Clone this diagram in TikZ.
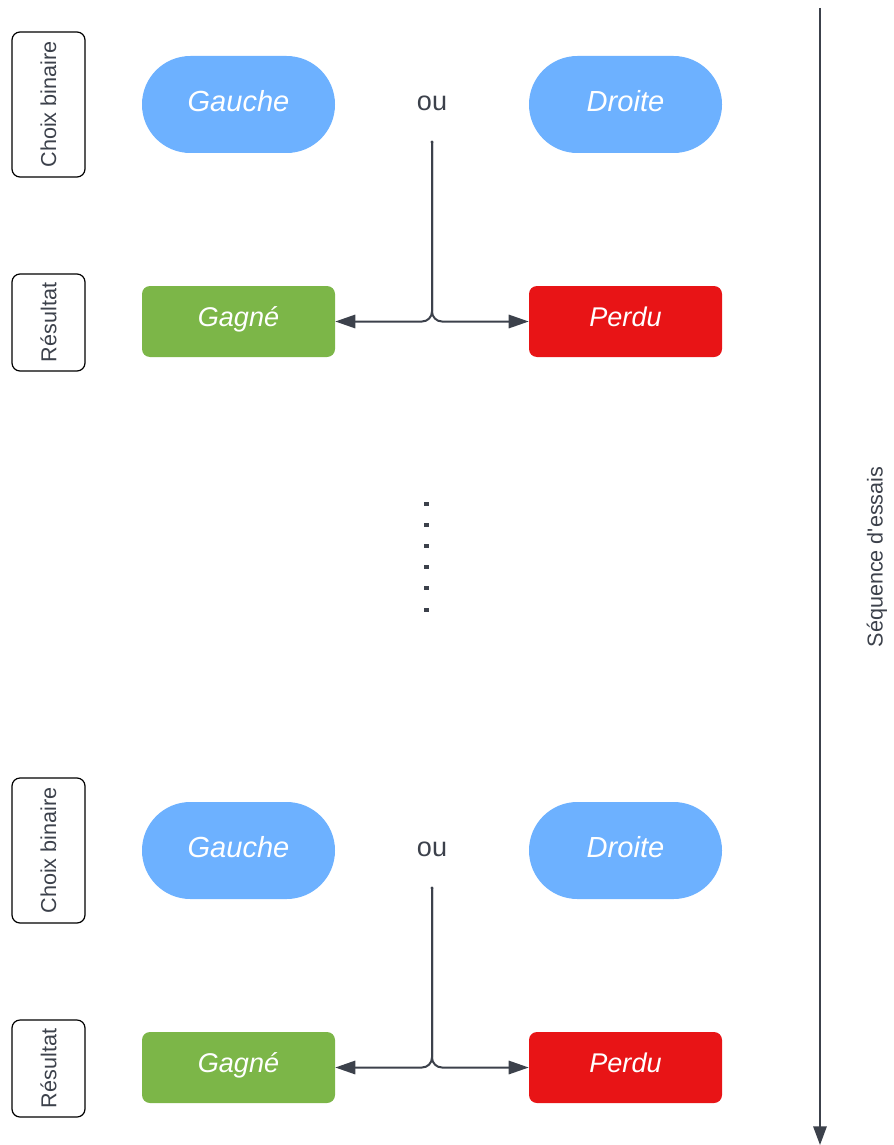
\documentclass[tikz,border=0pt]{standalone}
\usepackage{fontspec}
\setmainfont{Liberation Sans}
\usepackage{xcolor}
\usetikzlibrary{arrows.meta}

\definecolor{bleuchoix}{HTML}{6DB1FF}
\definecolor{vertgagne}{HTML}{7CB648}
\definecolor{rougeperdu}{HTML}{E81416}
\definecolor{trait}{HTML}{3C414B}

\begin{document}
\begin{tikzpicture}[x=0.75pt, y=-0.75pt,
  etiquette/.style={draw=black, line width=0.9pt, rounded corners=6pt, rotate=90, inner sep=0pt,
    minimum height=54.75pt, text=trait, font=\fontsize{16.2}{19}\selectfont},
  choix/.style={fill=bleuchoix, rounded corners=36.3pt, inner sep=0pt, minimum width=144.75pt,
    minimum height=72.75pt, text=white, text height=15pt, text depth=5.1pt,
    font=\fontsize{21.8}{26}\selectfont\itshape},
  issue/.style={rounded corners=6pt, inner sep=0pt, minimum width=144.75pt, minimum height=53.25pt,
    text=white, text height=15pt, text depth=7.2pt, font=\fontsize{20.3}{24}\selectfont\itshape},
  fleche/.style={draw=trait, line width=1.5pt, rounded corners=7.5pt,
    -{Triangle[length=15pt, width=10pt, sharp]}}]
\useasboundingbox (0,0) rectangle (893,1145);

% deux essais, le second decale vers le bas
\foreach \k/\oy in {1/0, 2/746} {
  \node[etiquette, minimum width=108.75pt] (binaire\k) at (48.5,104.5+\oy) {Choix binaire};
  \node[etiquette, minimum width=72.75pt] (resultat\k) at (48.5,322.5+\oy) {Résultat};
  \node[choix] (gauche\k) at (238.5,104.5+\oy) {Gauche};
  \node[choix] (droite\k) at (625.5,104.5+\oy) {Droite};
  \node[text=trait, font=\fontsize{20.3}{24}\selectfont] (ou\k) at (432,103+\oy) {ou};
  \node[issue, fill=vertgagne] (gagne\k) at (238.5,321.5+\oy) {Gagné};
  \node[issue, fill=rougeperdu] (perdu\k) at (625.5,321.5+\oy) {Perdu};
  \coordinate (fourche\k) at (432,142+\oy);
  \fill[trait] (fourche\k) circle (1.2pt);
  \draw[fleche] (fourche\k) |- (gagne\k);
  \draw[fleche] (fourche\k) |- (perdu\k);
}

% points de suspension
\foreach \y in {504,525,546,567,588,610}
  \fill[trait] (423.5,\y-2) rectangle ++(5,4);

% axe du temps
\coordinate (debut) at (820,8);
\coordinate (fin) at (820,1145);
\draw[draw=trait, line width=1.5pt, -{Triangle[length=14pt, width=10pt, sharp]}] (debut) -- (fin);
\node[rotate=90, text=trait, font=\fontsize{16.2}{19}\selectfont] (sequence) at (877,557) {Séquence d\textquotesingle essais};
\end{tikzpicture}
\end{document}
